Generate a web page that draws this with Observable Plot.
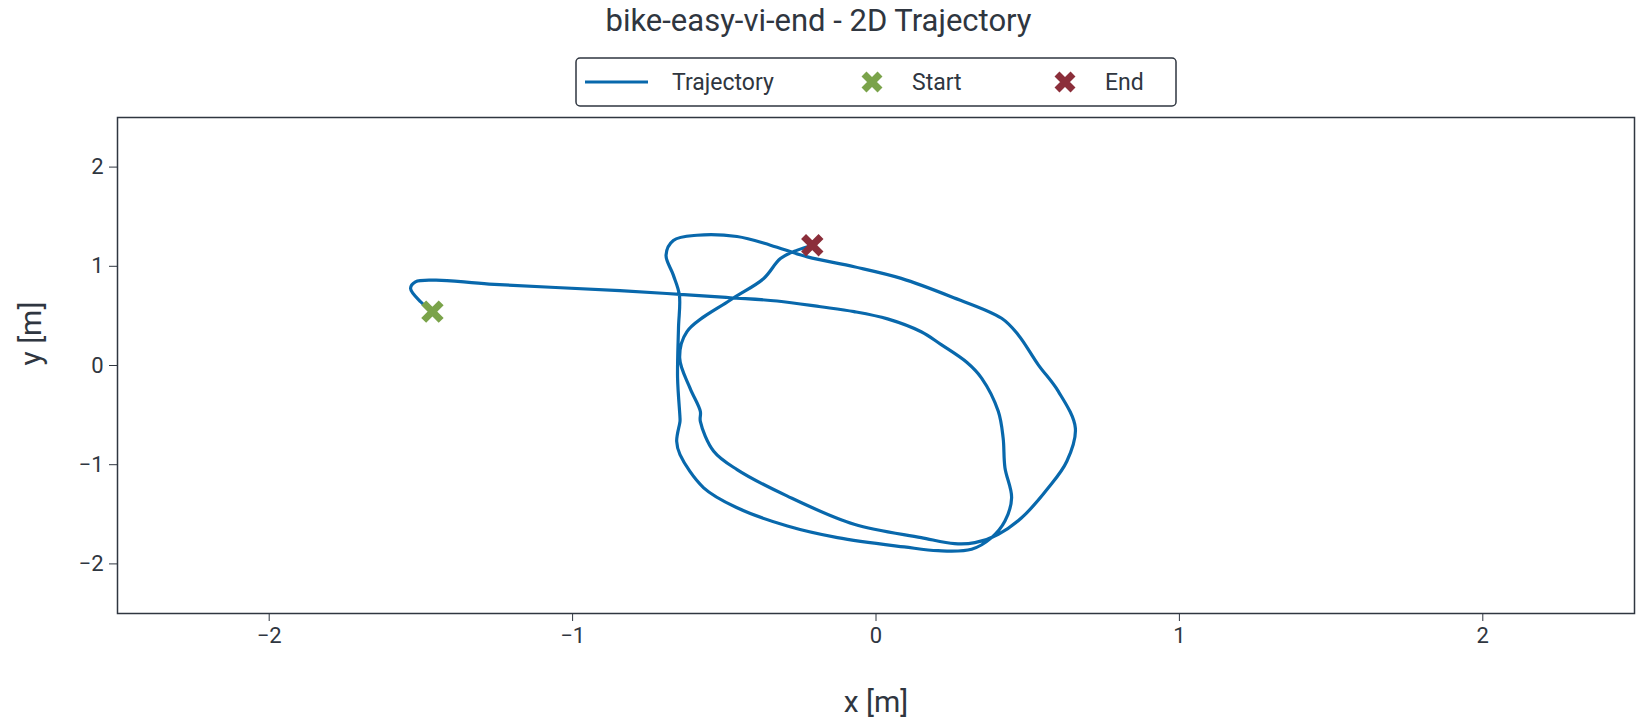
<!DOCTYPE html>
<html><head><meta charset="utf-8">
<script src="https://cdn.jsdelivr.net/npm/d3@7"></script>
<script src="https://cdn.jsdelivr.net/npm/@observablehq/plot@0.6"></script>
<style>
body{margin:0;background:#fff;font-family:Roboto,"Noto Sans",sans-serif;color:#2f3640;}
#wrap{position:relative;width:1637px;height:728px;}
#title{position:absolute;left:0;width:1637px;top:2px;text-align:center;font-size:31px;}
#legend{position:absolute;left:575px;top:57px;}
#chart{position:absolute;left:0;top:0;}
</style></head><body>
<div id="wrap"><div id="chart"></div><div id="title">bike-easy-vi-end - 2D Trajectory</div><div id="legend"></div></div>
<script>
const trajX = [-1.462,-1.50,-1.534,-1.518,-1.451,-1.275,-0.844,-0.646,-0.48,-0.326,-0.182,-0.072,0.038,0.149,0.215,0.30,0.348,0.403,0.419,0.425,0.447,0.425,0.381,0.315,0.204,0.093,-0.127,-0.292,-0.458,-0.568,-0.646,-0.657,-0.646,-0.646,-0.654,-0.651,-0.648,-0.668,-0.692,-0.668,-0.59,-0.458,-0.348,-0.226,-0.072,0.083,0.248,0.414,0.469,0.535,0.601,0.657,0.629,0.568,0.48,0.403,0.326,0.259,0.149,-0.072,-0.292,-0.458,-0.535,-0.579,-0.579,-0.613,-0.647,-0.623,-0.48,-0.37,-0.315,-0.259,-0.21];
const trajY = [0.543,0.64,0.777,0.844,0.861,0.821,0.754,0.717,0.683,0.65,0.592,0.543,0.47,0.34,0.21,0.03,-0.127,-0.462,-0.73,-1.03,-1.333,-1.568,-1.735,-1.852,-1.867,-1.829,-1.735,-1.618,-1.434,-1.233,-0.898,-0.764,-0.563,-0.53,-0.127,0.375,0.710,0.911,1.112,1.26,1.313,1.30,1.213,1.095,0.995,0.878,0.693,0.476,0.308,0.007,-0.261,-0.63,-0.965,-1.233,-1.535,-1.702,-1.786,-1.796,-1.735,-1.601,-1.317,-1.049,-0.864,-0.563,-0.462,-0.228,0.074,0.342,0.66,0.877,1.078,1.163,1.213];
const startPt = [-1.462, 0.543];
const endPt = [-0.21, 1.213];
const ticks = [-2,-1,0,1,2];
const lineColor = "#0868ac", startColor = "#7aa34a", endColor = "#8b2e3a", ink = "#2f3640";

const pts = trajX.map((x,i)=>({x, y: trajY[i]}));
const chart = Plot.plot({
  width: 1637, height: 728,
  marginLeft: 117, marginRight: 3, marginTop: 117, marginBottom: 115,
  style: {fontFamily: "Roboto, sans-serif", fontSize: "20px", color: ink, background: "#fff"},
  x: {domain: [-2.5, 2.5]},
  y: {domain: [-2.5, 2.5]},
  marks: [
    Plot.line(pts, {x: "x", y: "y", stroke: lineColor, strokeWidth: 3.2, curve: "catmull-rom"}),
    Plot.dot([startPt], {x: d=>d[0], y: d=>d[1], symbol: "times", r: 8, stroke: startColor, strokeWidth: 7}),
    Plot.dot([endPt], {x: d=>d[0], y: d=>d[1], symbol: "times", r: 8, stroke: endColor, strokeWidth: 7}),
    Plot.axisX({ticks, tickSize: 8, tickPadding: 6, fontSize: 22, stroke: ink, tickFormat: d=>String(d).replace("-","\u2212"), label: null}),
    Plot.axisY({ticks, tickSize: 8, tickPadding: 6, fontSize: 22, stroke: ink, tickFormat: d=>String(d).replace("-","\u2212"), label: null}),
    Plot.text(["x [m]"], {frameAnchor: "bottom", dy: 98, fontSize: 30, fill: ink}),
    Plot.text(["y [m]"], {frameAnchor: "left", dx: -86, rotate: -90, fontSize: 30, fill: ink}),
    Plot.frame({stroke: ink, strokeWidth: 1.5})
  ]
});
document.getElementById("chart").appendChild(chart);

const items = [{label:"Trajectory", type:"line", color:lineColor},{label:"Start", type:"x", color:startColor},{label:"End", type:"x", color:endColor}];
const lx = [10, 285, 478];
const lg = d3.select("#legend").append("svg").attr("width", 603).attr("height", 51);
lg.append("rect").attr("x",1).attr("y",1).attr("width",600).attr("height",48).attr("rx",4).attr("fill","#fff").attr("stroke",ink).attr("stroke-width",1.5);
items.forEach((it,i)=>{
  const g = lg.append("g").attr("transform",`translate(${lx[i]},25)`);
  if (it.type==="line") g.append("line").attr("x1",0).attr("x2",63).attr("stroke",it.color).attr("stroke-width",3.2);
  else g.append("path").attr("d","M-8,-8L8,8M-8,8L8,-8").attr("transform","translate(12,0)").attr("stroke",it.color).attr("stroke-width",7);
  g.append("text").attr("x", it.type==="line"?87:52).attr("y",8).attr("font-size",23).attr("fill",ink).attr("font-family","Roboto, sans-serif").text(it.label);
});
</script></body></html>
